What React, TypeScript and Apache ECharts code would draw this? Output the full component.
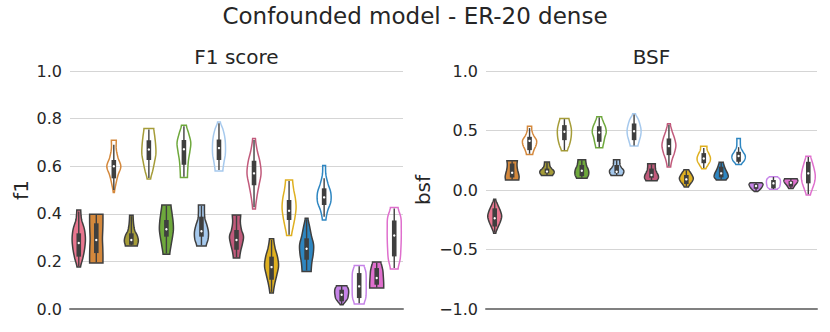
import React, { useEffect, useRef } from "react";
import * as echarts from "echarts";

// ---------- data ----------
const categories = ["v1","v2","v3","v4","v5","v6","v7","v8","v9","v10","v11","v12","v13","v14","v15","v16","v17","v18","v19"];
const palette = ["#e8768f","#d4883c","#a59c38","#6ea83c","#a6c9ed","#c15a7b","#dfb020","#2e86c1","#c683e8","#df6fcd"];
const colorIndex = [0,1,1,2,2,3,3,4,4,5,5,6,6,7,7,8,8,9,9];
const isFilled = [true,true,false,true,false,true,false,true,false,true,false,true,false,true,false,true,false,true,false];

// F1 score panel
const f1Top =    [0.416,0.398,0.709,0.394,0.758,0.437,0.772,0.437,0.786,0.395,0.716,0.295,0.542,0.381,0.603,0.098,0.183,0.197,0.426];
const f1Bottom = [0.176,0.193,0.489,0.265,0.546,0.230,0.552,0.265,0.580,0.214,0.420,0.067,0.309,0.158,0.374,0.018,0.021,0.088,0.168];
const f1Q1 =     [0.220,0.235,0.549,0.270,0.626,0.304,0.606,0.304,0.626,0.249,0.520,0.123,0.374,0.207,0.437,0.032,0.046,0.102,0.221];
const f1Median = [0.277,0.290,0.600,0.290,0.670,0.335,0.671,0.327,0.676,0.290,0.570,0.176,0.413,0.253,0.469,0.060,0.095,0.130,0.309];
const f1Q3 =     [0.318,0.360,0.626,0.318,0.709,0.374,0.710,0.388,0.712,0.332,0.623,0.220,0.458,0.297,0.507,0.081,0.151,0.172,0.372];
const f1WhiskerLo = [0.180,0.196,0.500,0.268,0.550,0.234,0.556,0.268,0.584,0.218,0.428,0.072,0.312,0.162,0.388,0.020,0.024,0.090,0.172];
const f1WhiskerHi = [0.410,0.395,0.690,0.390,0.754,0.433,0.768,0.433,0.780,0.391,0.710,0.290,0.538,0.377,0.549,0.096,0.180,0.194,0.422];
const f1Density = [
  [0.28,0.40,0.80,0.95,0.85,0.60,0.25],
  [0.95,0.95,0.92,0.88,0.92,0.95,0.95],
  [0.35,0.35,0.60,1.00,0.60,0.30,0.08],
  [0.25,0.28,0.35,0.50,0.85,1.00,0.85],
  [0.70,0.85,0.97,1.00,0.80,0.55,0.25],
  [0.65,0.80,0.95,1.00,0.85,0.65,0.48],
  [0.35,0.70,0.98,0.85,0.65,0.55,0.50],
  [0.43,0.43,0.50,0.80,1.00,0.95,0.67],
  [0.20,0.60,0.85,0.93,0.90,0.70,0.55],
  [0.60,0.55,0.70,1.00,0.85,0.60,0.45],
  [0.20,0.45,0.85,1.00,0.70,0.40,0.20],
  [0.30,0.50,0.85,1.00,0.75,0.45,0.25],
  [0.50,0.65,0.90,1.00,0.85,0.60,0.35],
  [0.20,0.45,0.70,1.00,0.95,0.75,0.65],
  [0.20,0.25,0.55,0.95,0.95,0.50,0.25],
  [0.75,0.95,1.00,0.95,0.85,0.55,0.20],
  [0.70,0.95,1.00,1.00,1.00,0.95,0.70],
  [0.60,0.75,0.88,0.93,0.97,1.00,1.00],
  [0.55,0.95,1.00,1.00,0.95,0.85,0.55],
];

// BSF panel
const bsfTop =    [-0.078,0.246,0.536,0.236,0.600,0.255,0.615,0.254,0.640,0.220,0.556,0.170,0.367,0.234,0.433,0.061,0.112,0.095,0.283];
const bsfBottom = [-0.363,0.084,0.299,0.122,0.330,0.098,0.355,0.122,0.369,0.078,0.193,0.025,0.178,0.084,0.215,-0.012,0.006,0.012,-0.042];
const bsfQ1 =     [-0.307,0.106,0.335,0.140,0.419,0.117,0.405,0.140,0.419,0.103,0.293,0.050,0.225,0.106,0.237,0.010,0.014,0.028,0.056];
const bsfMedian = [-0.237,0.145,0.413,0.156,0.489,0.162,0.483,0.154,0.494,0.126,0.369,0.089,0.265,0.140,0.285,0.034,0.056,0.061,0.140];
const bsfQ3 =     [-0.154,0.223,0.447,0.180,0.545,0.210,0.536,0.210,0.559,0.180,0.433,0.126,0.310,0.196,0.321,0.050,0.084,0.075,0.237];
const bsfWhiskerLo = [-0.355,0.088,0.305,0.125,0.335,0.102,0.360,0.125,0.374,0.082,0.200,0.030,0.185,0.088,0.222,-0.010,0.008,0.014,-0.035];
const bsfWhiskerHi = [-0.085,0.242,0.520,0.232,0.595,0.251,0.610,0.250,0.634,0.216,0.548,0.165,0.352,0.230,0.360,0.059,0.110,0.093,0.278];
const bsfDensity = [
  [0.15,0.45,0.80,1.00,0.80,0.45,0.15],
  [0.75,0.70,0.72,0.80,0.92,1.00,0.95],
  [0.30,0.35,0.60,1.00,0.95,0.65,0.45],
  [0.35,0.38,0.45,0.70,1.00,1.00,0.80],
  [0.65,0.85,1.00,1.00,0.90,0.70,0.43],
  [0.55,0.60,0.70,0.90,1.00,0.95,0.75],
  [0.35,0.60,0.90,1.00,0.80,0.65,0.50],
  [0.45,0.45,0.50,0.70,1.00,1.00,0.80],
  [0.20,0.60,0.85,1.00,0.95,0.75,0.55],
  [0.55,0.55,0.60,0.75,0.95,1.00,0.80],
  [0.20,0.45,0.80,1.00,0.80,0.45,0.25],
  [0.35,0.60,0.85,1.00,0.85,0.55,0.30],
  [0.45,0.50,0.75,0.95,0.90,0.60,0.30],
  [0.30,0.40,0.55,0.75,0.95,1.00,0.70],
  [0.25,0.25,0.30,0.60,0.95,0.85,0.40],
  [0.85,1.00,0.95,0.85,0.70,0.50,0.25],
  [0.60,0.90,1.00,1.00,0.95,0.85,0.55],
  [0.90,1.00,0.95,0.80,0.60,0.45,0.30],
  [0.35,0.60,0.85,1.00,0.90,0.60,0.30],
];

const FONT = "DejaVu Sans";
const TEXT = "#262626";
const DARK = "#3f3f3f";

function buildData(top: number[], bottom: number[], q1: number[], med: number[], q3: number[], wlo: number[], whi: number[]) {
  return categories.map((_, i) => [i, top[i], bottom[i], q1[i], med[i], q3[i], wlo[i], whi[i]]);
}

function makeRender(density: number[][]) {
  return (params: any, api: any) => {
    const i = params.dataIndex;
    const x = api.value(0);
    const t = api.value(1), b = api.value(2);
    const q1 = api.value(3), md = api.value(4), q3 = api.value(5);
    const wlo = api.value(6), whi = api.value(7);
    const band = api.size([1, 0])[0];
    const halfMax = band * 0.4;
    const prof = density[i];
    const n = prof.length;
    const M = 48;
    const right: number[][] = [];
    const left: number[][] = [];
    for (let k = 0; k <= M; k++) {
      const s = (k / M) * (n - 1);
      const j = Math.min(Math.floor(s), n - 2);
      const u = s - j;
      const p0 = prof[Math.max(j - 1, 0)], p1 = prof[j], p2 = prof[j + 1], p3 = prof[Math.min(j + 2, n - 1)];
      let w = 0.5 * (2 * p1 + (-p0 + p2) * u + (2 * p0 - 5 * p1 + 4 * p2 - p3) * u * u + (-p0 + 3 * p1 - 3 * p2 + p3) * u * u * u);
      w = Math.max(w, 0.03);
      const v = t - ((t - b) * k) / M;
      const c = api.coord([x, v]);
      right.push([c[0] + w * halfMax, c[1]]);
      left.unshift([c[0] - w * halfMax, c[1]]);
    }
    const color = palette[colorIndex[i]];
    const filled = isFilled[i];
    const cx = api.coord([x, md])[0];
    const yMed = api.coord([x, md])[1];
    const yQ1 = api.coord([x, q1])[1];
    const yQ3 = api.coord([x, q3])[1];
    const yLo = api.coord([x, wlo])[1];
    const yHi = api.coord([x, whi])[1];
    return {
      type: "group",
      children: [
        {
          type: "polygon",
          shape: { points: right.concat(left) },
          style: filled
            ? { fill: color, stroke: DARK, lineWidth: 1.5 }
            : { fill: "rgba(255,255,255,0)", stroke: color, lineWidth: 1.5 },
        },
        {
          type: "line",
          shape: { x1: cx, y1: yHi, x2: cx, y2: yLo },
          style: { stroke: DARK, lineWidth: 1.4 },
        },
        {
          type: "rect",
          shape: { x: cx - 2.3, y: yQ3, width: 4.6, height: yQ1 - yQ3 },
          style: { fill: DARK },
        },
        {
          type: "circle",
          shape: { cx: cx, cy: yMed, r: 1.2 },
          style: { fill: "#ffffff" },
        },
      ],
    };
  };
}

const fmt = (v: number) => (v < 0 ? "\u2212" : "") + Math.abs(v).toFixed(1);

export default function App() {
  const ref = useRef<HTMLDivElement>(null);
  useEffect(() => {
    if (!ref.current) return;
    const chart = echarts.init(ref.current, null, { renderer: "svg" });
    const xAxisBase = {
      type: "category",
      data: categories,
      boundaryGap: true,
      axisLabel: { show: false },
      axisTick: { show: false },
      axisLine: { show: true, onZero: false, lineStyle: { color: "#808080", width: 2 } },
      splitLine: { show: false },
    };
    const yAxisBase = {
      type: "value",
      axisLine: { show: false },
      axisTick: { show: false },
      axisLabel: { fontFamily: FONT, fontSize: 16, color: TEXT, margin: 8, formatter: fmt },
      splitLine: { show: true, lineStyle: { color: "#d5d5d5", width: 1 } },
    };
    chart.setOption({
      animation: false,
      backgroundColor: "#ffffff",
      title: {
        text: "Confounded model - ER-20 dense",
        left: "center",
        top: 4,
        padding: 0,
        textStyle: { fontFamily: FONT, fontSize: 23, fontWeight: "normal", color: TEXT },
      },
      grid: [
        { left: 70, top: 71, width: 333, height: 238 },
        { left: 486, top: 71, width: 331, height: 238 },
      ],
      xAxis: [
        { ...xAxisBase, gridIndex: 0 },
        { ...xAxisBase, gridIndex: 1 },
      ],
      yAxis: [
        { ...yAxisBase, gridIndex: 0, min: 0, max: 1, interval: 0.2 },
        { ...yAxisBase, gridIndex: 1, min: -1, max: 1, interval: 0.5 },
      ],
      graphic: [
        { type: "text", x: 236.5, y: 57, style: { text: "F1 score", font: `20px "${FONT}"`, fill: TEXT, textAlign: "center", textVerticalAlign: "middle" } },
        { type: "text", x: 651.5, y: 57, style: { text: "BSF", font: `20px "${FONT}"`, fill: TEXT, textAlign: "center", textVerticalAlign: "middle" } },
        { type: "text", x: 21, y: 190, rotation: Math.PI / 2, style: { text: "f1", font: `20px "${FONT}"`, fill: TEXT, textAlign: "center", textVerticalAlign: "middle" } },
        { type: "text", x: 423, y: 190, rotation: Math.PI / 2, style: { text: "bsf", font: `20px "${FONT}"`, fill: TEXT, textAlign: "center", textVerticalAlign: "middle" } },
      ],
      series: [
        {
          type: "custom",
          xAxisIndex: 0,
          yAxisIndex: 0,
          renderItem: makeRender(f1Density),
          encode: { x: 0, y: [1, 2] },
          data: buildData(f1Top, f1Bottom, f1Q1, f1Median, f1Q3, f1WhiskerLo, f1WhiskerHi),
        },
        {
          type: "custom",
          xAxisIndex: 1,
          yAxisIndex: 1,
          renderItem: makeRender(bsfDensity),
          encode: { x: 0, y: [1, 2] },
          data: buildData(bsfTop, bsfBottom, bsfQ1, bsfMedian, bsfQ3, bsfWhiskerLo, bsfWhiskerHi),
        },
      ],
    });
    return () => chart.dispose();
  }, []);
  return <div ref={ref} style={{ position: "fixed", left: 0, top: 0, width: 830, height: 332 }} />;
}
